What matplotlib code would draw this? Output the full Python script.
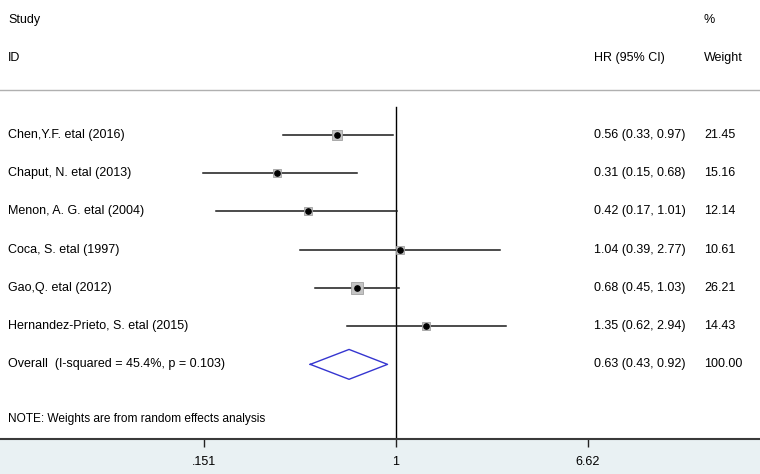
import numpy as np
import matplotlib
matplotlib.use('Agg')
import matplotlib.pyplot as plt

plt.rcParams['font.family'] = ['Liberation Sans', 'DejaVu Sans']

studies = ['Chen,Y.F. etal (2016)', 'Chaput, N. etal (2013)', 'Menon, A. G. etal (2004)',
           'Coca, S. etal (1997)', 'Gao,Q. etal (2012)', 'Hernandez-Prieto, S. etal (2015)']
hr = [0.56, 0.31, 0.42, 1.04, 0.68, 1.35]
lo = [0.33, 0.15, 0.17, 0.39, 0.45, 0.62]
hi = [0.97, 0.68, 1.01, 2.77, 1.03, 2.94]
weight = [21.45, 15.16, 12.14, 10.61, 26.21, 14.43]

overall_label = 'Overall  (I-squared = 45.4%, p = 0.103)'
overall = (0.63, 0.43, 0.92)

ticks = [0.151, 1, 6.62]
tick_labels = ['.151', '1', '6.62']

fig = plt.figure(figsize=(7.6, 4.74), dpi=100)
fig.patch.set_facecolor('#e9f1f3')
ax = fig.add_axes([0, 35 / 474, 1, 439 / 474])
ax.set_facecolor('white')
ax.set_xscale('log')

# pixel layout: x=1 at 396 px, 101.6 px per ln unit
ppl = 101.6
ax.set_xlim(np.exp(-396 / ppl), np.exp((760 - 396) / ppl))
ax.set_ylim(10.95, -0.52)

for s in ['top', 'left', 'right']:
    ax.spines[s].set_visible(False)
ax.spines['bottom'].set_color('#3a3a3a')
ax.spines['bottom'].set_linewidth(1.5)
ax.set_yticks([])
ax.set_xticks(ticks)
ax.set_xticklabels(tick_labels)
ax.xaxis.set_minor_locator(matplotlib.ticker.NullLocator())
ax.tick_params(axis='x', direction='out', length=6, width=1, color='#222222',
               labelsize=9, pad=6)

tr = ax.get_yaxis_transform()
fs = 9

# header
ax.text(8 / 760, 0, 'Study', transform=tr, fontsize=fs, va='center')
ax.text(8 / 760, 1, 'ID', transform=tr, fontsize=fs, va='center')
ax.text(594 / 760, 1, 'HR (95% CI)', transform=tr, fontsize=fs, va='center')
ax.text(704 / 760, 0, '%', transform=tr, fontsize=fs, va='center')
ax.text(704 / 760, 1, 'Weight', transform=tr, fontsize=fs, va='center')
ax.axhline(1.83, color='#b0b0b0', lw=1)

# null line
ax.plot([1, 1], [2.27, 10.95], color='black', lw=1, zorder=1)

for i, name in enumerate(studies):
    y = 3 + i
    ax.plot([lo[i], hi[i]], [y, y], color='#1a1a1a', lw=1.1, zorder=2)
    ax.plot(hr[i], y, marker='s', ms=1.6 * np.sqrt(weight[i]), mfc='#c4c4c4',
            mec='#a0a0a0', mew=0.6, zorder=3)
    ax.plot(hr[i], y, marker='o', ms=3.8, color='black', mec='black', zorder=4)
    ax.text(8 / 760, y, name, transform=tr, fontsize=fs, va='center')
    ax.text(594 / 760, y, '%.2f (%.2f, %.2f)' % (hr[i], lo[i], hi[i]),
            transform=tr, fontsize=fs, va='center')
    ax.text(704 / 760, y, '%.2f' % weight[i], transform=tr, fontsize=fs, va='center')

# overall diamond
yo = 9
est, olo, ohi = overall
ax.plot([olo, est, ohi, est, olo], [yo, yo - 0.39, yo, yo + 0.39, yo],
        color='#3535d0', lw=1, zorder=3)
ax.text(8 / 760, yo, overall_label, transform=tr, fontsize=fs, va='center')
ax.text(594 / 760, yo, '%.2f (%.2f, %.2f)' % overall, transform=tr, fontsize=fs, va='center')
ax.text(704 / 760, yo, '%.2f' % sum(weight), transform=tr, fontsize=fs, va='center')

ax.text(8 / 760, 10.43, 'NOTE: Weights are from random effects analysis', transform=tr,
        fontsize=8.6, va='center', family=['Liberation Sans Narrow', 'Liberation Sans'])

fig.savefig('out.png', dpi=100, facecolor=fig.get_facecolor())
